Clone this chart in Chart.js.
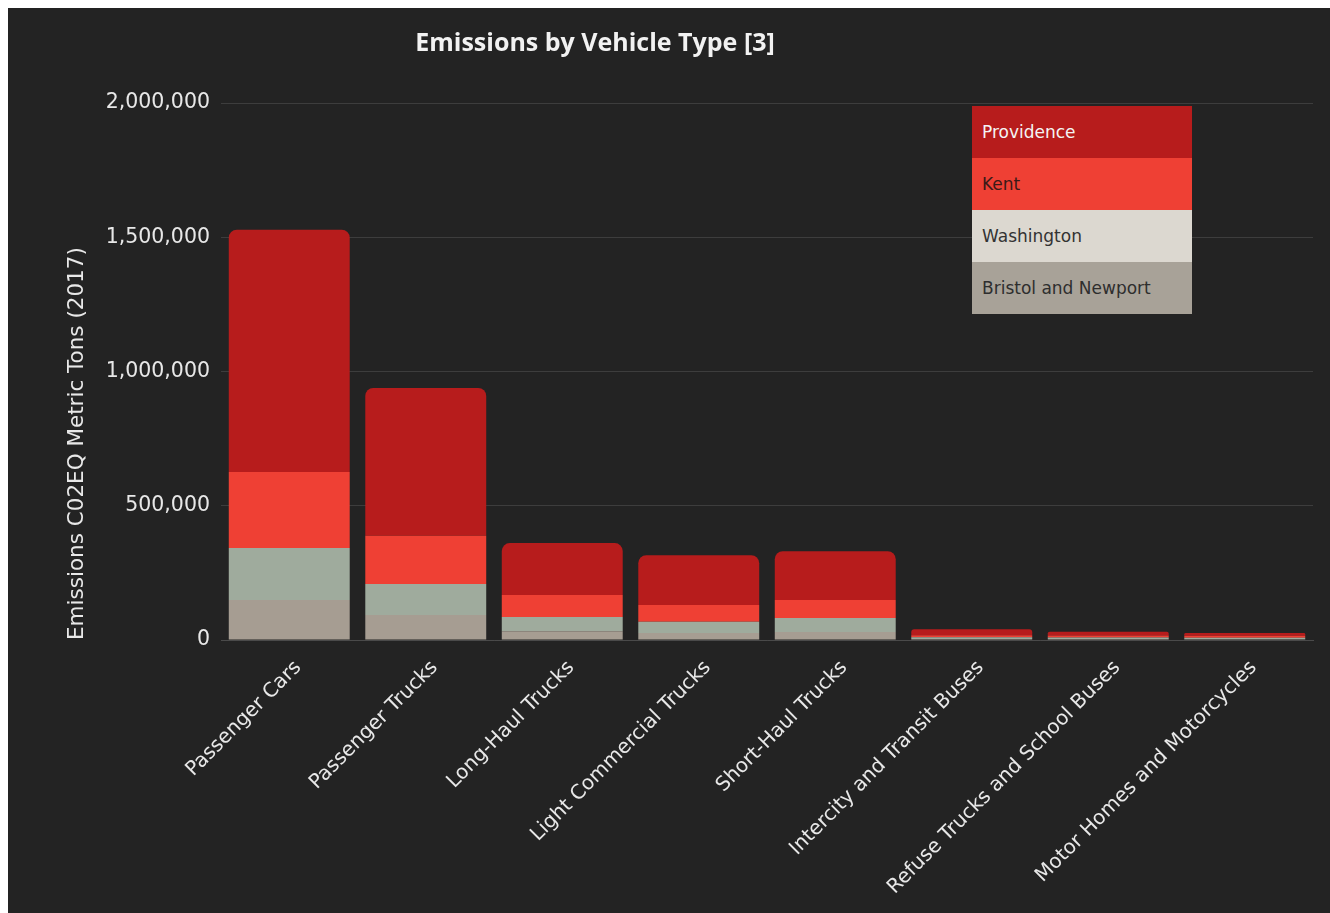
<!DOCTYPE html>
<html>
<head>
<meta charset="utf-8">
<script src="https://cdn.jsdelivr.net/npm/chart.js@4.4.0/dist/chart.umd.min.js"></script>
<style>
  html, body { margin: 0; padding: 0; background: #ffffff; }
  #panel { position: absolute; left: 8px; top: 8px; width: 1322px; height: 905px; background: #232323; overflow: hidden; }
  #chart-title { position: absolute; left: 0; width: 1174px; top: 16px; text-align: center; color: #f2f2f2;
    font: bold 25px "Open Sans", Lato, sans-serif; }
  #legend { position: absolute; left: 964px; top: 98px; width: 220px; }
  #legend div { height: 52px; padding-left: 10px; font: 17px "DejaVu Sans", sans-serif; line-height: 52px; }
  canvas { position: absolute; left: 0; top: 0; }
</style>
</head>
<body>
<div id="panel">
  <canvas id="main-chart" width="1322" height="905"></canvas>
  <div id="chart-title">Emissions by Vehicle Type [3]</div>
  <div id="legend"></div>
</div>
<script>
'use strict';

// ── DATA ────────────────────────────────────────────────────────────────────
const CATEGORIES = [
  'Passenger Cars', 'Passenger Trucks', 'Long-Haul Trucks', 'Light Commercial Trucks',
  'Short-Haul Trucks', 'Intercity and Transit Buses', 'Refuse Trucks and School Buses',
  'Motor Homes and Motorcycles'
];
const BRISTOL_NEWPORT = [149000, 93000, 33000, 26000, 30000, 4000, 4000, 3000];
const WASHINGTON      = [194000, 116000, 53000, 42000, 52000, 6000, 5000, 5000];
const KENT            = [283000, 179000, 82000, 62000, 67000, 8000, 8000, 8000];
const PROVIDENCE      = [902000, 551000, 193000, 186000, 182000, 22000, 14000, 10000];
const Y_TICKS = [0, 500000, 1000000, 1500000, 2000000];

const COLORS = {
  providence: '#b71c1c',
  kent: '#ef4034',
  washington: '#9fab9d',
  bristol: '#a69d92',
  legendWashington: '#dcd8d0',
  legendBristol: '#a8a298'
};

// ── LEGEND (stacked colour blocks) ──────────────────────────────────────────
const LEGEND_ITEMS = [
  { text: 'Providence', bg: COLORS.providence, fg: '#f4f4f4' },
  { text: 'Kent', bg: COLORS.kent, fg: '#3a1a18' },
  { text: 'Washington', bg: COLORS.legendWashington, fg: '#333333' },
  { text: 'Bristol and Newport', bg: COLORS.legendBristol, fg: '#2e2e2e' }
];
document.getElementById('legend').innerHTML = LEGEND_ITEMS.map(it =>
  `<div style="background:${it.bg};color:${it.fg}">${it.text}</div>`).join('');

// ── CHART ───────────────────────────────────────────────────────────────────
const FONT_FAMILY = '"DejaVu Sans", sans-serif';
const TOP_RADIUS = { topLeft: 8, topRight: 8, bottomLeft: 0, bottomRight: 0 };

const ctx = document.getElementById('main-chart').getContext('2d');
new Chart(ctx, {
  type: 'bar',
  data: {
    labels: CATEGORIES,
    datasets: [
      { label: 'Bristol and Newport', data: BRISTOL_NEWPORT, backgroundColor: COLORS.bristol },
      { label: 'Washington', data: WASHINGTON, backgroundColor: COLORS.washington },
      { label: 'Kent', data: KENT, backgroundColor: COLORS.kent },
      { label: 'Providence', data: PROVIDENCE, backgroundColor: COLORS.providence,
        borderRadius: TOP_RADIUS, borderSkipped: false }
    ]
  },
  options: {
    responsive: false,
    animation: false,
    datasets: { bar: { barPercentage: 0.886, categoryPercentage: 1.0 } },
    layout: { padding: { left: 57, right: 17, top: 95, bottom: 0 } },
    plugins: {
      legend: { display: false },
      title: { display: false },
      tooltip: { enabled: false }
    },
    scales: {
      x: {
        stacked: true,
        grid: { display: false },
        border: { display: true, color: '#4a4a4a' },
        ticks: {
          color: '#e8e8e8',
          font: { family: FONT_FAMILY, size: 20 },
          minRotation: 45, maxRotation: 45, padding: 8, labelOffset: 9
        },
        afterFit: s => { s.height = 273; }
      },
      y: {
        stacked: true,
        min: 0, max: 2000000,
        afterBuildTicks: s => { s.ticks = Y_TICKS.map(v => ({ value: v })); },
        grid: { color: '#3d3d3d', drawTicks: false },
        border: { display: false },
        ticks: {
          color: '#e8e8e8', font: { family: FONT_FAMILY, size: 20.5 }, padding: 11,
          callback: v => v.toLocaleString('en-US')
        },
        title: {
          display: true,
          align: 'start',
          text: 'Emissions C02EQ Metric Tons (2017)',
          color: '#e8e8e8', font: { family: FONT_FAMILY, size: 21.5 }, padding: 0
        },
        afterFit: s => { s.width = 156; }
      }
    }
  }
});
</script>
</body>
</html>
